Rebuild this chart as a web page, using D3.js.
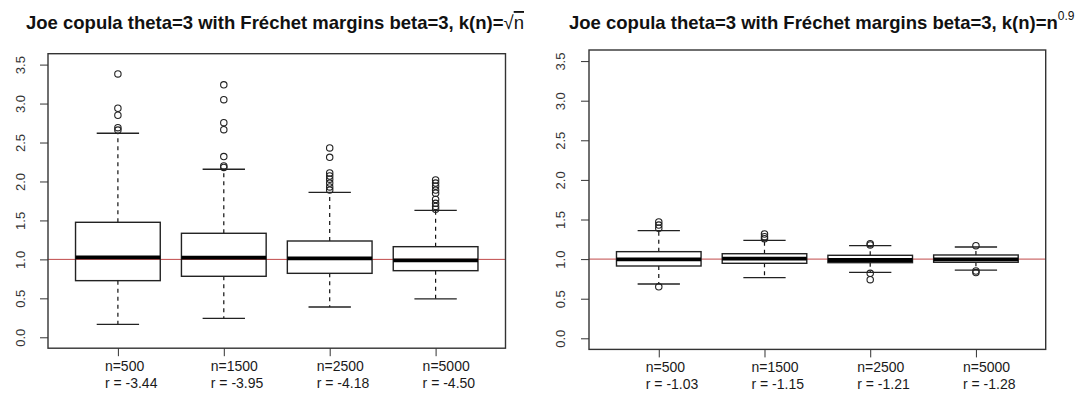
<!DOCTYPE html>
<html><head><meta charset="utf-8">
<script src="https://cdn.jsdelivr.net/npm/d3@7"></script>
<style>body{margin:0;background:#fff}svg{display:block}</style>
</head><body>
<svg id="c" width="1078" height="395"></svg>
<script>
const categories = ["n=500","n=1500","n=2500","n=5000"];
const yTicks = [0,0.5,1,1.5,2,2.5,3,3.5];

const leftR = ["r = -3.44","r = -3.95","r = -4.18","r = -4.50"];
const leftLower = [0.167,0.244,0.389,0.492];
const leftQ1 = [0.727,0.783,0.821,0.855];
const leftMedian = [1.027,1.022,1.014,0.988];
const leftQ3 = [1.476,1.335,1.236,1.163];
const leftUpper = [2.619,2.157,1.861,1.630];
const leftOutliers = [
  [3.38,2.94,2.85,2.69,2.66],
  [3.24,3.05,2.755,2.665,2.32,2.20,2.18],
  [2.43,2.31,2.11,2.07,2.03,1.98,1.93,1.89],
  [2.02,1.98,1.94,1.89,1.85,1.77,1.72,1.68,1.645]
];

const rightR = ["r = -1.03","r = -1.15","r = -1.21","r = -1.28"];
const rightLower = [0.686,0.765,0.833,0.862];
const rightQ1 = [0.913,0.947,0.955,0.960];
const rightMedian = [0.997,1.005,0.989,0.997];
const rightQ3 = [1.094,1.068,1.048,1.052];
const rightUpper = [1.359,1.237,1.169,1.153];
const rightOutliers = [
  [1.47,1.43,1.39,0.65],
  [1.317,1.283,1.258],
  [1.195,1.178,0.82,0.74],
  [1.17,0.85,0.83]
];

const svg = d3.select("#c");
const refColor = "#c04848";

function panel(cfg){
  const g = svg.append("g");
  const x = d3.scaleLinear().domain([0.34,4.66]).range([cfg.x0,cfg.x1]);
  const y = d3.scaleLinear().domain([-0.14,3.64]).range([cfg.y1,cfg.y0]);
  const bw = x(1.4)-x(1), cw = x(1.2)-x(1);

  const ya = d3.axisLeft(y).tickValues(yTicks).tickFormat(d3.format(".1f")).tickSize(8).tickPadding(0);
  const yg = g.append("g").attr("transform",`translate(${cfg.x0},0)`).call(ya);
  yg.select(".domain").remove();
  yg.selectAll(".tick line").attr("stroke","#333");
  yg.selectAll(".tick text").attr("x",0).attr("dy",0)
    .attr("transform",d=>`translate(${cfg.labX - cfg.x0},0) rotate(-90)`)
    .attr("text-anchor","middle").attr("fill","#333")
    .style("font","13px 'Liberation Sans', Arial, sans-serif");

  const xa = d3.axisBottom(x).tickValues([1,2,3,4]).tickFormat("").tickSize(8);
  const xg = g.append("g").attr("transform",`translate(0,${cfg.y1})`).call(xa);
  xg.select(".domain").remove();
  xg.selectAll(".tick line").attr("stroke","#333");

  const lab = g.append("g");
  categories.forEach((c,i)=>{
    const t = lab.append("text").attr("x",x(i+1)-13).attr("y",cfg.y1+23)
      .style("font","14px 'Liberation Sans', Arial, sans-serif").attr("fill","#1a1a1a");
    t.append("tspan").attr("x",x(i+1)-13).text(c);
    t.append("tspan").attr("x",x(i+1)-13).attr("dy",16.5).text(cfg.r[i]);
  });

  g.append("line").attr("x1",cfg.x0).attr("x2",cfg.x1).attr("y1",y(1)).attr("y2",y(1))
    .attr("stroke",refColor).attr("stroke-width",1);

  const d = categories.map((c,i)=>({i, lo:cfg.lo[i], q1:cfg.q1[i], med:cfg.med[i], q3:cfg.q3[i], hi:cfg.hi[i], out:cfg.out[i]}));
  const b = g.selectAll("g.box").data(d).join("g").attr("class","box");
  b.append("line").attr("x1",e=>x(e.i+1)).attr("x2",e=>x(e.i+1)).attr("y1",e=>y(e.q3)).attr("y2",e=>y(e.hi))
    .attr("stroke","#111").attr("stroke-width",1.2).attr("stroke-dasharray","4,4");
  b.append("line").attr("x1",e=>x(e.i+1)).attr("x2",e=>x(e.i+1)).attr("y1",e=>y(e.q1)).attr("y2",e=>y(e.lo))
    .attr("stroke","#111").attr("stroke-width",1.2).attr("stroke-dasharray","4,4");
  b.append("line").attr("x1",e=>x(e.i+1)-cw).attr("x2",e=>x(e.i+1)+cw).attr("y1",e=>y(e.hi)).attr("y2",e=>y(e.hi))
    .attr("stroke","#222").attr("stroke-width",1.3);
  b.append("line").attr("x1",e=>x(e.i+1)-cw).attr("x2",e=>x(e.i+1)+cw).attr("y1",e=>y(e.lo)).attr("y2",e=>y(e.lo))
    .attr("stroke","#222").attr("stroke-width",1.3);
  b.append("rect").attr("x",e=>x(e.i+1)-bw).attr("width",2*bw)
    .attr("y",e=>y(e.q3)).attr("height",e=>y(e.q1)-y(e.q3))
    .attr("fill","#fff").attr("fill-opacity",0).attr("stroke","#222").attr("stroke-width",1.4);
  b.append("line").attr("x1",e=>x(e.i+1)-bw).attr("x2",e=>x(e.i+1)+bw).attr("y1",e=>y(e.med)).attr("y2",e=>y(e.med))
    .attr("stroke","#000").attr("stroke-width",3.8);
  b.selectAll("circle").data(e=>e.out.map(v=>({i:e.i,v}))).join("circle")
    .attr("cx",o=>x(o.i+1)).attr("cy",o=>y(o.v)).attr("r",3.2)
    .attr("fill","none").attr("stroke","#222").attr("stroke-width",1.1);

  g.append("rect").attr("x",cfg.x0).attr("y",cfg.y0).attr("width",cfg.x1-cfg.x0).attr("height",cfg.y1-cfg.y0)
    .attr("fill","none").attr("stroke","#333").attr("stroke-width",1.4);

  const tt = svg.append("text").attr("x",cfg.tx).attr("y",29)
    .style("font","bold 18.5px 'Liberation Sans', Arial, sans-serif").attr("fill","#111");
  tt.append("tspan").text(cfg.title);
  cfg.titleExtra(tt);
}

panel({x0:48,x1:505.5,y0:53.7,y1:348.2,labX:25,tx:26,
  r:leftR,lo:leftLower,q1:leftQ1,med:leftMedian,q3:leftQ3,hi:leftUpper,out:leftOutliers,
  title:"Joe copula theta=3 with Fréchet margins beta=3, k(n)=",
  titleExtra:t=>{t.append("tspan").style("font-weight","normal").text("√");
    t.append("tspan").style("font-weight","normal").style("text-decoration","overline").text("n");}});
panel({x0:589,x1:1045.7,y0:50,y1:349.4,labX:565,tx:569,
  r:rightR,lo:rightLower,q1:rightQ1,med:rightMedian,q3:rightQ3,hi:rightUpper,out:rightOutliers,
  title:"Joe copula theta=3 with Fréchet margins beta=3, k(n)=n",
  titleExtra:t=>{t.append("tspan").attr("dy",-9).style("font-size","12px").style("font-weight","normal").text("0.9");}});
</script>
</body></html>
